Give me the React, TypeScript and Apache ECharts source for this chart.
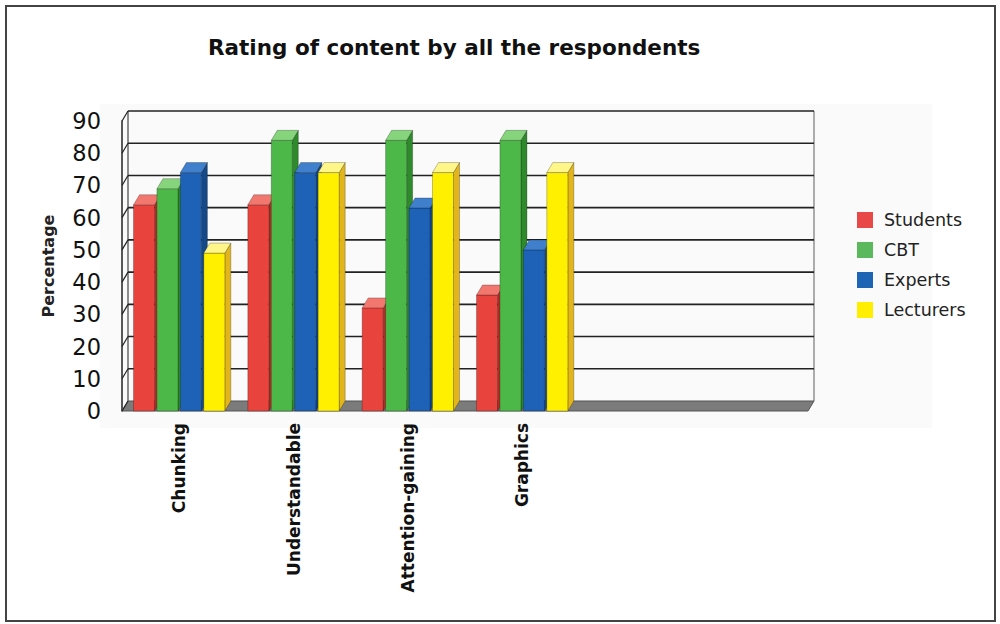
import React, { useEffect, useRef } from "react";
import * as echarts from "echarts";

const categories = ["Chunking", "Understandable", "Attention-gaining", "Graphics", "", ""];
const students = [64, 64, 32, 36];
const cbt = [69, 84, 84, 84];
const experts = [74, 74, 63, 50];
const lecturers = [49, 74, 74, 74];
const yTicks = [0, 10, 20, 30, 40, 50, 60, 70, 80, 90];

const seriesNames = ["Students", "CBT", "Experts", "Lecturers"];
const seriesValues = [students, cbt, experts, lecturers];
const palette = [
  { front: "#e8433d", top: "#f2776f", side: "#b52c27", legend: "#e84848" },
  { front: "#4cb847", top: "#86d47c", side: "#2f8a2c", legend: "#5cb85c" },
  { front: "#1d62b6", top: "#3f7fcc", side: "#154887", legend: "#1e64b4" },
  { front: "#fff000", top: "#fff68a", side: "#e2b51c", legend: "#ffee00" },
];

const DX = 6;
const DY = 10;

function barRender(idx: number) {
  const c = palette[idx];
  return (params: any, api: any) => {
    const cat = api.value(0);
    const val = api.value(1);
    const base = api.coord([cat, 0]);
    const top = api.coord([cat, val]);
    const band = api.size([1, 0])[0];
    const pitch = band * 0.205;
    const w = band * 0.184;
    const x0 = base[0] + (idx - 1.5) * pitch - w / 2;
    const x1 = x0 + w;
    const yb = base[1];
    const yt = top[1];
    const edge = { stroke: "rgba(0,0,0,0.35)", lineWidth: 0.7 };
    return {
      type: "group",
      children: [
        {
          type: "polygon",
          shape: { points: [[x1, yt], [x1 + DX, yt - DY], [x1 + DX, yb - DY], [x1, yb]] },
          style: { fill: c.side, ...edge },
        },
        {
          type: "rect",
          shape: { x: x0, y: yt, width: w, height: yb - yt },
          style: { fill: c.front, ...edge },
        },
        {
          type: "polygon",
          shape: { points: [[x0, yt], [x0 + DX, yt - DY], [x1 + DX, yt - DY], [x1, yt]] },
          style: { fill: c.top, ...edge },
        },
      ],
    };
  };
}

function wallRender(params: any, api: any) {
  const cs = params.coordSys;
  const v = api.value(1);
  const y = api.coord([0, v])[1];
  const xl = cs.x;
  const xr = cs.x + cs.width;
  const children: any[] = [];
  if (v === 0) {
    const yTop = cs.y;
    const yBot = cs.y + cs.height;
    children.push({
      type: "line",
      shape: { x1: xl + DX, y1: yTop - DY, x2: xl + DX, y2: yBot - DY },
      style: { stroke: "#444", lineWidth: 1.2 },
    });
    children.push({
      type: "line",
      shape: { x1: xr + DX, y1: yTop - DY, x2: xr + DX, y2: yBot - DY },
      style: { stroke: "#777", lineWidth: 1.2 },
    });
    children.push({
      type: "polygon",
      shape: { points: [[xl, yBot], [xr, yBot], [xr + DX, yBot - DY], [xl + DX, yBot - DY]] },
      style: { fill: "#7b7b7b", stroke: "#555", lineWidth: 1 },
    });
  } else {
    children.push({
      type: "line",
      shape: { x1: xl + DX, y1: y - DY, x2: xr + DX, y2: y - DY },
      style: { stroke: "#222", lineWidth: 1.6 },
    });
  }
  children.push({
    type: "line",
    shape: { x1: xl, y1: y, x2: xl + DX, y2: y - DY },
    style: { stroke: "#222", lineWidth: 1.2 },
  });
  return { type: "group", children };
}

export default function App() {
  const ref = useRef<HTMLDivElement>(null);
  useEffect(() => {
    if (!ref.current) return;
    const chart = echarts.init(ref.current, null, { renderer: "svg" });
    const font = "DejaVu Sans";
    const option: any = {
      animation: false,
      backgroundColor: "#ffffff",
      color: palette.map((p) => p.legend),
      title: {
        text: "Rating of content by all the respondents",
        left: 203,
        top: 31,
        textStyle: { fontFamily: font, fontWeight: "bold", fontSize: 21.5, color: "#111" },
      },
      graphic: [
        {
          type: "rect",
          z: -10,
          shape: { x: 100, y: 104, width: 832, height: 324 },
          style: { fill: "#fafafa" },
        },
        {
          type: "rect",
          z: 100,
          shape: { x: 6, y: 6, width: 989, height: 615 },
          style: { fill: "none", stroke: "#444", lineWidth: 2 },
        },
      ],
      legend: {
        orient: "vertical",
        left: 852,
        top: 206,
        icon: "rect",
        itemWidth: 16,
        itemHeight: 16,
        itemGap: 12,
        data: seriesNames,
        textStyle: { fontFamily: font, fontSize: 17.5, color: "#222", padding: [0, 0, 0, 6] },
      },
      grid: { left: 122, right: 192, top: 121, bottom: 213 },
      xAxis: {
        type: "category",
        data: categories,
        axisLine: { show: false },
        axisTick: { show: false },
        splitLine: { show: false },
        axisLabel: {
          interval: 0,
          rotate: 90,
          margin: 12,
          fontFamily: font,
          fontWeight: "bold",
          fontSize: 17,
          color: "#111",
        },
      },
      yAxis: {
        type: "value",
        min: 0,
        max: 90,
        interval: 10,
        name: "Percentage",
        nameLocation: "middle",
        nameGap: 66,
        nameTextStyle: { fontFamily: font, fontWeight: "bold", fontSize: 16, color: "#222" },
        axisLine: { show: true, lineStyle: { color: "#222", width: 1.5 } },
        axisTick: { show: false },
        splitLine: { show: false },
        axisLabel: { margin: 21, fontFamily: font, fontSize: 22.5, color: "#111" },
      },
      series: [
        {
          type: "custom",
          name: "wall",
          z: 1,
          silent: true,
          renderItem: wallRender,
          data: yTicks.map((v) => [0, v]),
          encode: { x: 0, y: 1 },
        },
        ...seriesNames.map((name, i) => ({
          type: "custom",
          name,
          z: 2 + i,
          itemStyle: { color: palette[i].legend },
          renderItem: barRender(i),
          data: seriesValues[i].map((v, j) => [j, v]),
          encode: { x: 0, y: 1 },
        })),
      ],
    };
    chart.setOption(option);
    return () => chart.dispose();
  }, []);
  return (
    <div
      ref={ref}
      style={{ position: "fixed", left: 0, top: 0, width: 1000, height: 624 }}
    />
  );
}
